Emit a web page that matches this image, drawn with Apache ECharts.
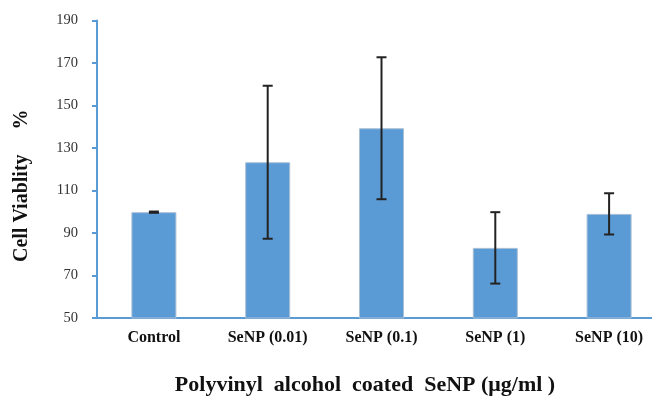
<!DOCTYPE html>
<html>
<head>
<meta charset="utf-8">
<script src="https://cdn.jsdelivr.net/npm/echarts@6/dist/echarts.min.js"></script>
<style>html,body{margin:0;padding:0;background:#fff}#c{width:652px;height:399px}</style>
</head>
<body>
<div id="c"></div>
<script>
var categories = ['Control', 'SeNP (0.01)', 'SeNP (0.1)', 'SeNP (1)', 'SeNP (10)'];
var values = [99.8, 123.3, 139.3, 83.0, 99.0];
var errors = [0.3, 36.0, 33.4, 16.8, 9.7];
var yTicks = [50, 70, 90, 110, 130, 150, 170, 190];

var serif = '"Liberation Serif", "Times New Roman", serif';
var chart = echarts.init(document.getElementById('c'));
var errData = values.map(function (v, i) { return [i, v - errors[i], v + errors[i]]; });

chart.setOption({
  animation: false,
  grid: { left: 97, top: 20.5, right: -14, bottom: 81, containLabel: false, outerBoundsMode: 'none' },
  xAxis: {
    type: 'category',
    data: categories,
    axisLine: { lineStyle: { color: '#5b9bd5', width: 2 } },
    axisTick: { show: false },
    axisLabel: { fontFamily: serif, fontWeight: 'bold', fontSize: 16, color: '#111', margin: 12 },
    name: 'Polyvinyl  alcohol  coated  SeNP (μg/ml )',
    nameLocation: 'middle',
    nameGap: 56,
    nameTextStyle: { fontFamily: serif, fontWeight: 'bold', fontSize: 22, color: '#111', padding: [0, 0, 0, -33] }
  },
  yAxis: {
    type: 'value',
    min: yTicks[0],
    max: yTicks[yTicks.length - 1],
    interval: 20,
    splitLine: { show: false },
    axisLine: { show: true, lineStyle: { color: '#5b9bd5', width: 2 } },
    axisTick: { show: true, inside: false, length: 5, lineStyle: { color: '#5b9bd5', width: 2 } },
    axisLabel: { fontFamily: serif, fontSize: 14.5, color: '#333', margin: 19 },
    name: 'Cell Viablity     %',
    nameLocation: 'middle',
    nameGap: 65,
    nameRotate: 90,
    nameTextStyle: { fontFamily: serif, fontWeight: 'bold', fontSize: 20, color: '#111', padding: [0, 0, 0, -33] }
  },
  series: [
    {
      type: 'bar',
      data: values,
      barWidth: 45,
      itemStyle: { color: '#5b9bd5', borderColor: '#a9bfd6', borderWidth: 1 }
    },
    {
      type: 'custom',
      data: errData,
      z: 10,
      renderItem: function (params, api) {
        var x = api.value(0);
        var lo = api.coord([x, api.value(1)]);
        var hi = api.coord([x, api.value(2)]);
        var hw = 5;
        var st = { stroke: '#222', lineWidth: 2 };
        return {
          type: 'group',
          children: [
            { type: 'line', shape: { x1: hi[0], y1: hi[1], x2: lo[0], y2: lo[1] }, style: st },
            { type: 'line', shape: { x1: hi[0] - hw, y1: hi[1], x2: hi[0] + hw, y2: hi[1] }, style: st },
            { type: 'line', shape: { x1: lo[0] - hw, y1: lo[1], x2: lo[0] + hw, y2: lo[1] }, style: st }
          ]
        };
      }
    }
  ]
});
</script>
</body>
</html>
